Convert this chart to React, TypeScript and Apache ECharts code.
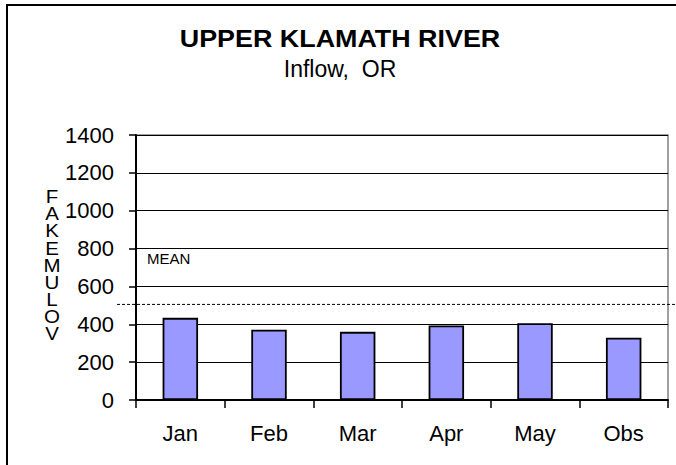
import React, { useEffect, useRef } from "react";
import * as echarts from "echarts";

const categories = ["Jan", "Feb", "Mar", "Apr", "May", "Obs"];
const values = [434, 371, 360, 394, 406, 329];
const meanValue = 505;
const yTicks = { min: 0, max: 1400, interval: 200 };
const title = "UPPER KLAMATH RIVER";
const subtitle = "Inflow,  OR";
const yName = "FAKEMULOV";
const meanLabel = "MEAN";

const FONT = "'Liberation Sans', Arial, sans-serif";

export default function App() {
  const ref = useRef<HTMLDivElement>(null);
  useEffect(() => {
    if (!ref.current) return;
    const chart = echarts.init(ref.current, null, { renderer: "svg" });
    const option: any = {
      animation: false,
      backgroundColor: "#ffffff",
      textStyle: { fontFamily: FONT },
      grid: {
        left: 136,
        top: 135,
        right: 8,
        bottom: 65,
        show: true,
        borderColor: "#808080",
        borderWidth: 1.5,
        backgroundColor: "transparent",
      },
      xAxis: {
        type: "category",
        data: categories,
        axisLine: { lineStyle: { color: "#000", width: 2 } },
        axisTick: { show: true, length: 8, alignWithLabel: false, lineStyle: { color: "#000", width: 1.5 } },
        axisLabel: { color: "#000", fontSize: 22, margin: 22, fontFamily: FONT },
        splitLine: { show: false },
      },
      yAxis: {
        type: "value",
        min: yTicks.min,
        max: yTicks.max,
        interval: yTicks.interval,
        axisLine: { show: true, lineStyle: { color: "#000", width: 2 } },
        axisTick: { show: true, length: 7, lineStyle: { color: "#000", width: 1.5 } },
        axisLabel: {
          color: "#000",
          fontSize: 22,
          margin: 22,
          fontFamily: FONT,
          formatter: (v: number) => String(v),
        },
        splitLine: { show: true, lineStyle: { color: "#000", width: 1.2 } },
      },
      series: [
        {
          type: "bar",
          data: values,
          barWidth: "40%",
          itemStyle: { color: "#9999FF", borderColor: "#000", borderWidth: 1.8 },
        },
      ],
      graphic: [
        {
          id: "frame",
          type: "rect",
          shape: { x: 7, y: 5, width: 720, height: 520 },
          style: { fill: "none", stroke: "#000", lineWidth: 2 },
          silent: true,
        },
        {
          id: "title",
          type: "text",
          x: 340,
          y: 39,
          scaleX: 1.12,
          style: {
            text: title,
            font: `bold 24px ${FONT}`,
            fill: "#000",
            textAlign: "center",
            textVerticalAlign: "middle",
          },
        },
        {
          id: "subtitle",
          type: "text",
          x: 340,
          y: 69,
          style: {
            text: subtitle,
            font: `23px ${FONT}`,
            fill: "#000",
            textAlign: "center",
            textVerticalAlign: "middle",
          },
        },
        {
          id: "yname",
          type: "text",
          x: 52,
          y: 188,
          scaleX: 1.08,
          style: {
            text: yName.split("").join("\n"),
            font: `19px ${FONT}`,
            lineHeight: 17.1,
            fill: "#000",
            textAlign: "center",
            textVerticalAlign: "top",
          },
        },
        {
          id: "meanlabel",
          type: "text",
          x: 147,
          y: 258,
          style: {
            text: meanLabel,
            font: `15px ${FONT}`,
            fill: "#000",
            textAlign: "left",
            textVerticalAlign: "middle",
          },
        },
      ],
    };
    chart.setOption(option);
    const py = chart.convertToPixel({ yAxisIndex: 0 }, meanValue) as number;
    chart.setOption({
      graphic: [
        {
          id: "meanline",
          $action: "merge",
          type: "line",
          shape: { x1: 117, y1: py, x2: 676, y2: py },
          style: { stroke: "#000", lineWidth: 1, lineDash: [3, 2] },
          silent: true,
          z: 10,
        },
      ],
    });
    return () => chart.dispose();
  }, []);
  return <div ref={ref} style={{ width: 676, height: 465, position: "absolute", left: 0, top: 0 }} />;
}
